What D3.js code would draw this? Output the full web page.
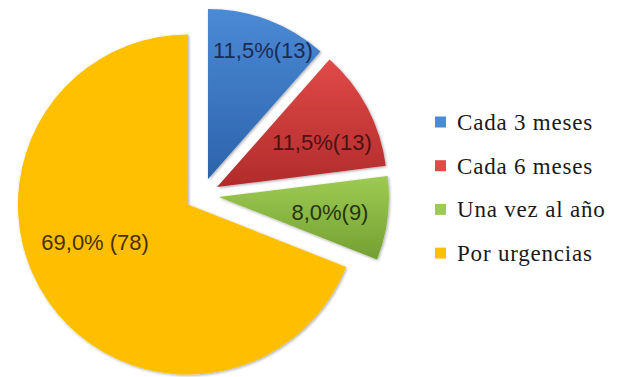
<!DOCTYPE html>
<html>
<head>
<meta charset="utf-8">
<script src="https://cdn.jsdelivr.net/npm/d3@7"></script>
<style>
  html, body { margin: 0; padding: 0; background: #ffffff; }
  svg { display: block; }
</style>
</head>
<body>
<svg id="chart" width="626" height="377"></svg>
<script>
// Frecuencia de visita: categorías, conteos y etiquetas
const categories = ["Cada 3 meses", "Cada 6 meses", "Una vez al año", "Por urgencias"];
const counts = [13, 13, 9, 78];
const percentLabels = ["11,5%(13)", "11,5%(13)", "8,0%(9)", "69,0% (78)"];

// Colores de cada sector (claro arriba, oscuro abajo)
const topColors = ["#4b8ad6", "#e04a48", "#9dcb52", "#ffc000"];
const bottomColors = ["#2c63ab", "#b12b2b", "#73a032", "#ffbf00"];
const labelColors = ["#1b2b55", "#4a1212", "#26330e", "#4a3000"];

const width = 626, height = 377;
const cx = 202, cy = 195, radius = 170, explode = 17;

// Posición de las etiquetas: fracción del radio y giro respecto al ángulo medio
const labelRadius = [0.82, 0.67, 0.66, 0.59];
const labelTurn = [2.5, 5, 1, 12];

const svg = d3.select("#chart");
const defs = svg.append("defs");

categories.forEach((c, i) => {
  const g = defs.append("linearGradient")
    .attr("id", "grad" + i)
    .attr("x1", 0).attr("y1", 0).attr("x2", 0).attr("y2", 1);
  g.append("stop").attr("offset", "0%").attr("stop-color", topColors[i]);
  g.append("stop").attr("offset", "100%").attr("stop-color", bottomColors[i]);
});

const shadow = defs.append("filter").attr("id", "soft")
  .attr("x", "-10%").attr("y", "-10%").attr("width", "120%").attr("height", "120%");
shadow.append("feGaussianBlur").attr("in", "SourceAlpha").attr("stdDeviation", 1.6).attr("result", "b");
shadow.append("feOffset").attr("in", "b").attr("dx", 0.6).attr("dy", 0.8).attr("result", "o");
shadow.append("feComponentTransfer").attr("in", "o").attr("result", "s")
  .append("feFuncA").attr("type", "linear").attr("slope", 0.35);
const merge = shadow.append("feMerge");
merge.append("feMergeNode").attr("in", "s");
merge.append("feMergeNode").attr("in", "SourceGraphic");

const pie = d3.pie().sort(null).value(d => d).startAngle(0).endAngle(2 * Math.PI);
const arcs = pie(counts);
const arc = d3.arc().innerRadius(0).outerRadius(radius);

const root = svg.append("g").attr("transform", `translate(${cx},${cy})`);

const slices = root.selectAll("g.slice")
  .data(arcs)
  .join("g")
  .attr("class", "slice")
  .attr("transform", d => {
    const mid = (d.startAngle + d.endAngle) / 2;
    return `translate(${explode * Math.sin(mid)},${-explode * Math.cos(mid)})`;
  });

slices.append("path")
  .attr("d", arc)
  .attr("fill", (d, i) => `url(#grad${i})`)
  .attr("filter", "url(#soft)");

slices.append("text")
  .attr("transform", (d, i) => {
    const a = (d.startAngle + d.endAngle) / 2 + labelTurn[i] * Math.PI / 180;
    const r = radius * labelRadius[i];
    return `translate(${r * Math.sin(a)},${-r * Math.cos(a) + 7})`;
  })
  .attr("text-anchor", "middle")
  .attr("font-family", "'Liberation Sans', Arial, sans-serif")
  .attr("font-size", 22)
  .attr("fill", (d, i) => labelColors[i])
  .text((d, i) => percentLabels[i]);

// Leyenda
const legend = svg.append("g").attr("transform", "translate(435,122)");
const rowStep = 43.7;
const rows = legend.selectAll("g.item")
  .data(categories)
  .join("g")
  .attr("class", "item")
  .attr("transform", (d, i) => `translate(0,${i * rowStep})`);

rows.append("rect")
  .attr("x", 0).attr("y", -5.5)
  .attr("width", 11).attr("height", 11)
  .attr("fill", (d, i) => topColors[i]);

rows.append("text")
  .attr("x", 22).attr("y", 8)
  .attr("font-family", "'Liberation Serif', 'Times New Roman', serif")
  .attr("font-size", 23)
  .attr("letter-spacing", 0.8)
  .attr("fill", "#1a1a1a")
  .text(d => d);
</script>
</body>
</html>
